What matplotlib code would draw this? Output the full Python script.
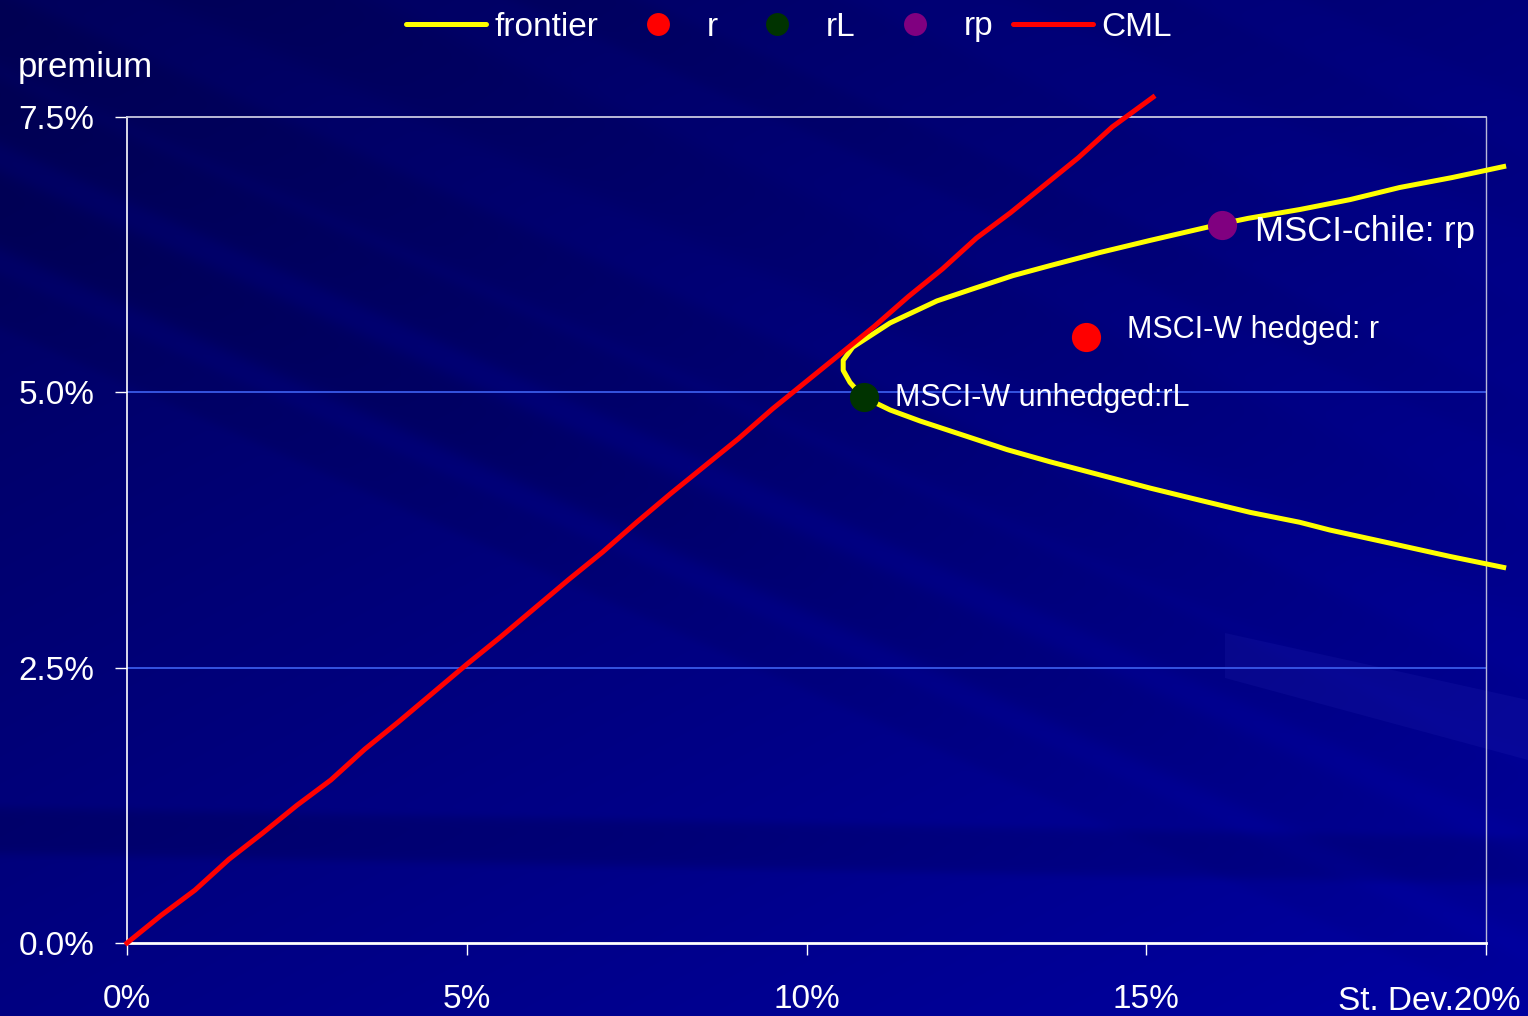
import matplotlib
matplotlib.use("Agg")
import matplotlib.pyplot as plt
from matplotlib.lines import Line2D
from matplotlib.patches import Polygon
import numpy as np

plt.rcParams['font.family'] = ['Liberation Sans', 'DejaVu Sans']

# efficient frontier (st. dev %, premium %), upper branch -> vertex -> lower branch
frontier_sd = [20.26, 19.50, 18.73, 18.00, 17.26, 16.50, 16.11, 15.06, 14.32, 13.58,
               13.04, 12.45, 11.92, 11.23, 10.68, 10.54, 10.54, 10.64, 10.83, 11.23,
               11.67, 12.36, 12.95, 13.58, 14.32, 15.06, 15.79, 16.53, 17.26, 17.70,
               18.59, 19.47, 20.26]
frontier_ret = [7.05, 6.95, 6.86, 6.75, 6.66, 6.58, 6.53, 6.38, 6.27, 6.15,
                6.06, 5.94, 5.83, 5.63, 5.41, 5.29, 5.20, 5.09, 4.96, 4.84,
                4.74, 4.60, 4.48, 4.37, 4.25, 4.13, 4.02, 3.91, 3.82, 3.75,
                3.63, 3.51, 3.41]

# capital market line
cml_sd = [0.0, 0.5, 1.0, 1.5, 2.0, 2.5, 3.0, 3.5, 4.0, 4.5, 5.0, 5.5, 6.0, 6.5, 7.0,
          7.5, 8.0, 8.5, 9.0, 9.5, 10.0, 10.5, 11.0, 11.5, 12.0, 12.5, 13.0, 13.5,
          14.0, 14.5, 15.1]
cml_ret = [0.00, 0.25, 0.48, 0.76, 1.00, 1.25, 1.48, 1.76, 2.01, 2.27, 2.53, 2.78,
           3.04, 3.30, 3.55, 3.82, 4.08, 4.33, 4.58, 4.85, 5.10, 5.35, 5.60, 5.87,
           6.12, 6.40, 6.63, 6.88, 7.13, 7.41, 7.68]

# single assets
pt_r = (14.11, 5.50)
pt_rL = (10.85, 4.96)
pt_rp = (16.11, 6.52)

x_ticks = [0, 5, 10, 15, 20]
x_labels = ['0%', '5%', '10%', '15%', '']
y_ticks = [0.0, 2.5, 5.0, 7.5]
y_labels = ['0.0%', '2.5%', '5.0%', '7.5%']

W, H = 1528, 1016
fig = plt.figure(figsize=(W / 100, H / 100), dpi=100)

# slide background: navy gradient with diagonal streaks
yy, xx = np.mgrid[0:H, 0:W].astype(float)
u, v = xx / W, yy / H
blue = 0.36 + 0.27 * np.clip(0.55 * v + 0.45 * u, 0, 1)
t = yy - 0.45 * xx
for c, w, f in [(110, 35, 0.88), (210, 40, 0.86), (300, 28, 0.92), (30, 40, 0.90),
                (-120, 50, 0.93), (-260, 30, 0.92), (-420, 40, 1.07), (-560, 30, 1.08)]:
    blue *= 1 - (1 - f) * np.exp(-((t - c) / w) ** 6) * np.clip(1.3 - u, 0, 1)
band = yy - (830 + 0.02 * xx)
blue *= 1 - 0.13 * np.exp(-(band / 24) ** 6) * np.clip(1.2 - u * 0.5, 0, 1)
bg = np.dstack([np.zeros_like(blue), np.zeros_like(blue), np.clip(blue, 0, 1)])
bg_ax = fig.add_axes([0, 0, 1, 1], zorder=-10)
bg_ax.imshow(bg, aspect='auto', extent=[0, W, H, 0])
bg_ax.add_patch(Polygon([(1225, 633), (1528, 700), (1528, 760), (1225, 678)],
                        closed=True, facecolor='#3030c0', alpha=0.15, lw=0))
bg_ax.set_xlim(0, W)
bg_ax.set_ylim(H, 0)
bg_ax.axis('off')

ax = fig.add_axes([127 / W, 1 - 943 / H, (1486 - 127) / W, (943 - 117) / H])
ax.patch.set_alpha(0)

ax.plot(frontier_sd, frontier_ret, color='yellow', lw=3.6, clip_on=False, zorder=3,
        solid_joinstyle='round')
ax.plot(cml_sd, cml_ret, color='red', lw=3.6, clip_on=False, zorder=4,
        solid_joinstyle='round')
ax.plot(*pt_r, 'o', color='red', ms=21, mec='none', zorder=5, clip_on=False)
ax.plot(*pt_rL, 'o', color='#003300', ms=21, mec='none', zorder=5, clip_on=False)
ax.plot(*pt_rp, 'o', color='#800080', ms=21, mec='none', zorder=5, clip_on=False)

lab_kw = dict(textcoords='offset points', color='white', va='center')
ax.annotate('MSCI-W hedged: r', pt_r, xytext=(30, 5), fontsize=22, **lab_kw)
ax.annotate('MSCI-W unhedged:rL', pt_rL, xytext=(22, -1), fontsize=22, **lab_kw)
ax.annotate('MSCI-chile: rp', pt_rp, xytext=(24, -5), fontsize=25, **lab_kw)

ax.set_xlim(0, 20)
ax.set_ylim(0, 7.5)
ax.set_xticks(x_ticks)
ax.set_xticklabels(x_labels)
ax.set_yticks(y_ticks)
ax.set_yticklabels(y_labels)
ax.tick_params(axis='both', colors='white', labelsize=24, length=8.6, width=1,
               direction='out')
ax.tick_params(axis='x', pad=21)
ax.tick_params(axis='y', pad=15)
for g in [2.5, 5.0]:
    ax.axhline(g, color='#3a5ae8', lw=1.3, zorder=1)
ax.spines['left'].set_color('white')
ax.spines['left'].set_linewidth(1.2)
ax.spines['bottom'].set_color('white')
ax.spines['bottom'].set_linewidth(2)
ax.spines['right'].set_color('#b8b8d8')
ax.spines['right'].set_linewidth(1)
ax.spines['top'].set_color('#c8c8e0')
ax.spines['top'].set_linewidth(1.3)

ax.annotate('St. Dev.20%', xy=(20, 0), xycoords=('data', 'axes fraction'),
            xytext=(25, -42), textcoords='offset points', ha='right', va='center',
            color='white', fontsize=24, annotation_clip=False)
fig.text(18 / W, 1 - 67 / H, 'premium', color='white', fontsize=25, va='center')

handles = [
    Line2D([], [], color='yellow', lw=3.6, solid_capstyle='round'),
    Line2D([], [], ls='none', marker='o', color='red', ms=16.5, mec='none'),
    Line2D([], [], ls='none', marker='o', color='#003300', ms=16.5, mec='none'),
    Line2D([], [], ls='none', marker='o', color='#800080', ms=16.5, mec='none'),
    Line2D([], [], color='red', lw=3.6, solid_capstyle='round'),
]
leg = fig.legend(handles, ['frontier', 'r', 'rL', 'rp', 'CML'], ncol=5,
                 loc='center', bbox_to_anchor=(789 / W, 1 - 27 / H), frameon=False,
                 fontsize=24, handlelength=2.4, handletextpad=0.25,
                 columnspacing=0.6, labelcolor='white', borderpad=0)

fig.savefig('out.png', dpi=100)
